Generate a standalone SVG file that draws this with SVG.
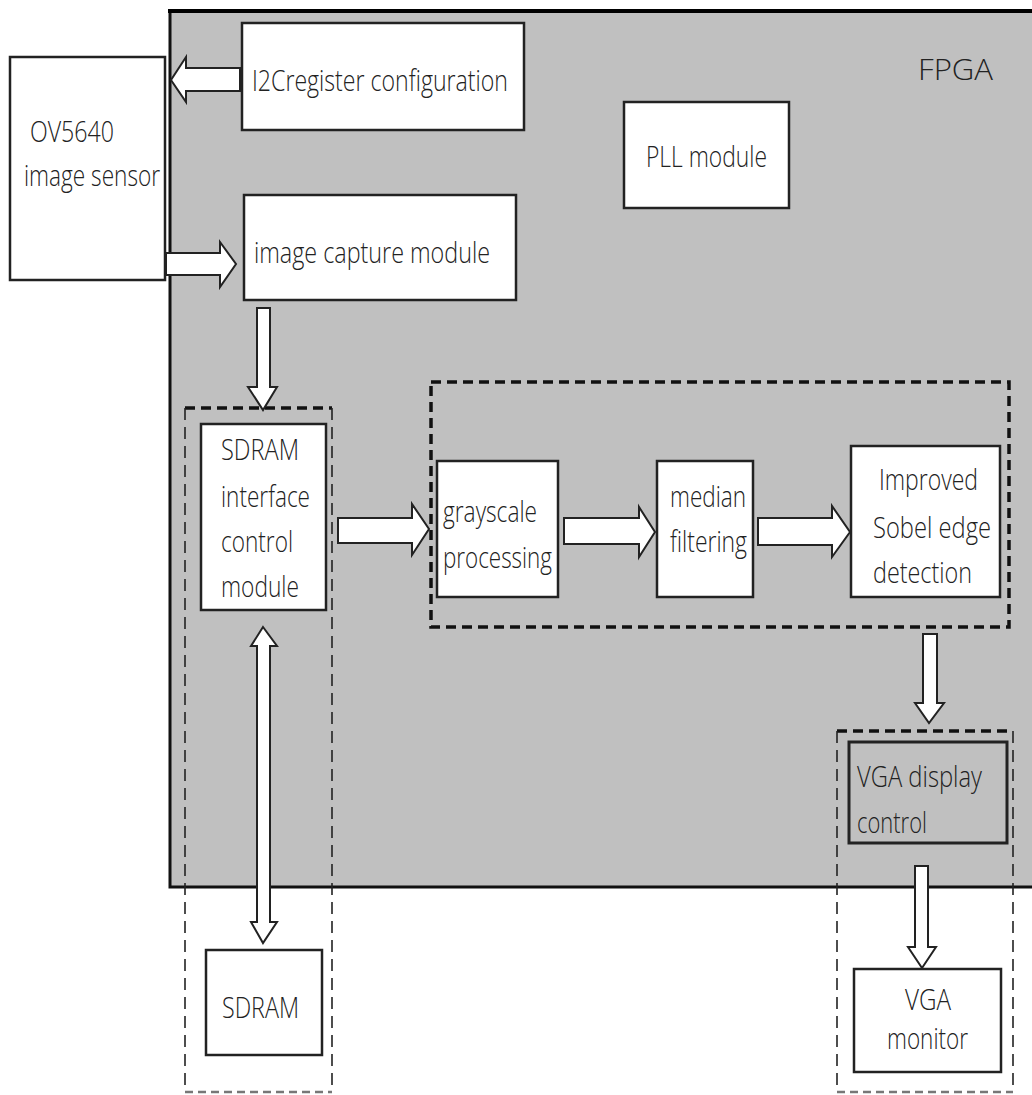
<svg xmlns="http://www.w3.org/2000/svg" width="1032" height="1095" viewBox="0 0 1032 1095">
<style>
.box{fill:#fff;stroke:#222;stroke-width:2.5}
.t{font-family:"Open Sans","Noto Sans","Liberation Sans",sans-serif;font-weight:300;font-size:30px;fill:#222}
.arr{fill:#fff;stroke:#222;stroke-width:2;stroke-linejoin:miter}
.dthick{fill:none;stroke:#111;stroke-width:3.5;stroke-dasharray:10 6}
.dthin{fill:none;stroke:#222;stroke-width:1.6;stroke-dasharray:12 7}
.dgray{fill:none;stroke:#777;stroke-width:2.5;stroke-dasharray:8 5}
</style>
<rect width="1032" height="1095" fill="#fff"/>
<g id="fpga">
<rect x="170" y="11" width="870" height="876" fill="#c0c0c0" stroke="#111" stroke-width="3"/>
<line x1="168" y1="11" x2="1032" y2="11" stroke="#000" stroke-width="4"/>
<text class="t" x="918" y="80" font-size="37" textLength="75" lengthAdjust="spacingAndGlyphs">FPGA</text>
</g>
<g id="groups">
<line class="dthick" x1="185" y1="408" x2="332" y2="408"/>
<line class="dthin" x1="185" y1="408" x2="185" y2="1092"/>
<line class="dthin" x1="332" y1="408" x2="332" y2="1092"/>
<line class="dgray" x1="185" y1="1092" x2="332" y2="1092"/>
<rect class="dthick" x="431" y="382" width="578" height="245"/>
<line class="dthick" x1="837" y1="731" x2="1013" y2="731"/>
<line class="dthin" x1="837" y1="731" x2="837" y2="1092"/>
<line class="dthin" x1="1013" y1="731" x2="1013" y2="1092"/>
<line class="dgray" x1="837" y1="1092" x2="1013" y2="1092"/>
</g>
<g id="ov5640">
<rect class="box" x="10" y="57" width="155" height="223"/>
<text class="t" x="30" y="142" textLength="84" lengthAdjust="spacingAndGlyphs">OV5640</text>
<text class="t" x="24" y="186" textLength="136" lengthAdjust="spacingAndGlyphs">image sensor</text>
</g>
<g id="i2c">
<rect class="box" x="242" y="23" width="282" height="107"/>
<text class="t" x="252" y="91" textLength="256" lengthAdjust="spacingAndGlyphs">I2Cregister configuration</text>
</g>
<g id="pll">
<rect class="box" x="624" y="102" width="165" height="106"/>
<text class="t" x="646" y="167" textLength="121" lengthAdjust="spacingAndGlyphs">PLL module</text>
</g>
<g id="capture">
<rect class="box" x="244" y="195" width="272" height="105"/>
<text class="t" x="254" y="263" textLength="236" lengthAdjust="spacingAndGlyphs">image capture module</text>
</g>
<g id="sdramctrl">
<rect class="box" x="201" y="424" width="125" height="186"/>
<text class="t" x="221" y="460" textLength="78" lengthAdjust="spacingAndGlyphs">SDRAM</text>
<text class="t" x="221" y="507" textLength="89" lengthAdjust="spacingAndGlyphs">interface</text>
<text class="t" x="221" y="552" textLength="72" lengthAdjust="spacingAndGlyphs">control</text>
<text class="t" x="221" y="597" textLength="78" lengthAdjust="spacingAndGlyphs">module</text>
</g>
<g id="grayscale">
<rect class="box" x="437" y="461" width="121" height="136"/>
<text class="t" x="443" y="522" textLength="94" lengthAdjust="spacingAndGlyphs">grayscale</text>
<text class="t" x="443" y="568" textLength="109" lengthAdjust="spacingAndGlyphs">processing</text>
</g>
<g id="median">
<rect class="box" x="657" y="461" width="96" height="136"/>
<text class="t" x="670" y="507" textLength="76" lengthAdjust="spacingAndGlyphs">median</text>
<text class="t" x="670" y="552" textLength="77" lengthAdjust="spacingAndGlyphs">filtering</text>
</g>
<g id="sobel">
<rect class="box" x="851" y="446" width="149" height="151"/>
<text class="t" x="879" y="490" textLength="99" lengthAdjust="spacingAndGlyphs">Improved</text>
<text class="t" x="873" y="538" textLength="118" lengthAdjust="spacingAndGlyphs">Sobel edge</text>
<text class="t" x="873" y="583" textLength="99" lengthAdjust="spacingAndGlyphs">detection</text>
</g>
<g id="vgactrl">
<rect x="849" y="742" width="158" height="101" fill="#c0c0c0" stroke="#222" stroke-width="3"/>
<text class="t" x="857" y="787" textLength="125" lengthAdjust="spacingAndGlyphs">VGA display</text>
<text class="t" x="857" y="833" textLength="70" lengthAdjust="spacingAndGlyphs">control</text>
</g>
<g id="vgamonitor">
<rect class="box" x="854" y="969" width="147" height="103"/>
<text class="t" x="905" y="1010" font-size="26" textLength="46" lengthAdjust="spacingAndGlyphs">VGA</text>
<text class="t" x="887" y="1049" font-size="26" textLength="81" lengthAdjust="spacingAndGlyphs">monitor</text>
</g>
<g id="sdram">
<rect class="box" x="206" y="950" width="116" height="105"/>
<text class="t" x="222" y="1018" textLength="77" lengthAdjust="spacingAndGlyphs">SDRAM</text>
</g>
<g id="connectors">
<polygon class="arr" points="240,68 186,68 186,57 171,80 186,102 186,91 240,91"/>
<polygon class="arr" points="166,253 220,253 220,242 236,264 220,287 220,275 166,275"/>
<polygon class="arr" points="257,308 270,308 270,387 277,387 263,410 248,387 257,387"/>
<polygon class="arr" points="338,518 412,518 412,504 429,529 412,555 412,543 338,543"/>
<polygon class="arr" points="564,518 639,518 639,507 655,532 639,557 639,544 564,544"/>
<polygon class="arr" points="758,518 832,518 832,506 850,532 832,557 832,545 758,545"/>
<polygon class="arr" points="923,634 937,634 937,703 944,703 929,723 915,703 923,703"/>
<polygon class="arr" points="915,866 928,866 928,947 936,947 922,968 908,947 915,947"/>
<polygon class="arr" points="263,627 277,646 270,646 270,922 277,922 263,943 251,922 257,922 257,646 251,646"/>
</g>
</svg>
